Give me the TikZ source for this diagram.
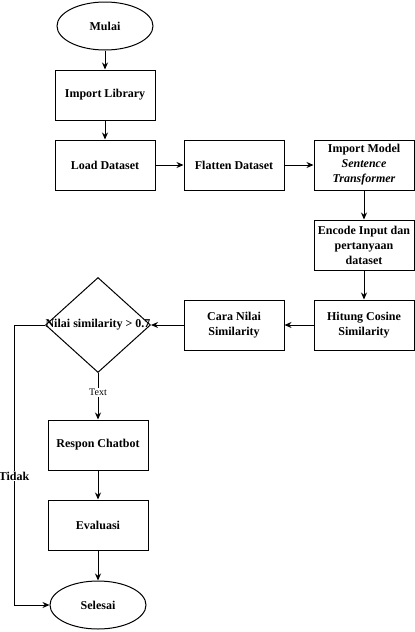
\documentclass[tikz,border=0pt]{standalone}
\usepackage{fontspec}
\setmainfont{Liberation Serif}
\usetikzlibrary{arrows.meta}
\usetikzlibrary{shapes.geometric}

\begin{document}
\begin{tikzpicture}[x=1pt,y=-1pt,line width=1pt,
    every node/.style={font=\fontsize{12}{15}\selectfont\bfseries,align=center},
    proses/.style={draw,rectangle,minimum width=100pt,minimum height=50pt,inner sep=2pt},
    terminal/.style={draw,ellipse,minimum width=96pt,minimum height=48pt,inner sep=0pt},
    keputusan/.style={draw,diamond,minimum width=105pt,minimum height=95pt,inner sep=0pt},
    panah/.style={-{Stealth[length=7pt,width=6pt]}}]

    % canvas
    \useasboundingbox (0,0) rectangle (415,632);

    % start and first column
    \node[terminal] (mulai) at (105,26) {Mulai};
    \node[proses] (library) at (105,95) {Import Library};
    \node[proses] (load) at (105,165) {Load Dataset};

    % top row
    \node[proses] (flatten) at (234,165) {Flatten Dataset};
    \node[proses] (model) at (364,165) {Import Model\\\textit{Sentence}\\\textit{Transformer}};

    % right column
    \node[proses] (encode) at (364,245) {Encode Input dan\\pertanyaan\\dataset};
    \node[proses] (cosine) at (364,325) {Hitung Cosine\\Similarity};
    \node[proses] (cara) at (234,325) {Cara Nilai\\Similarity};

    % decision
    \node[keputusan] (cek) at (98,325) {};
    \node (cektext) at (cek.center) {Nilai similarity > 0.7};

    % bottom column
    \node[proses] (respon) at (98,445) {Respon Chatbot};
    \node[proses] (evaluasi) at (98,525) {Evaluasi};
    \node[terminal] (selesai) at (98,605) {Selesai};

    % connectors
    \draw[panah] (mulai) -- (library);
    \draw[panah] (library) -- (load);
    \draw[panah] (load) -- (flatten);
    \draw[panah] (flatten) -- (model);
    \draw[panah] (model) -- (encode);
    \draw[panah] (encode) -- (cosine);
    \draw[panah] (cosine) -- (cara);
    \draw[panah] (cara) -- (cek.east);
    \draw[panah] (cek.south) -- node[fill=white,inner sep=1pt,pos=0.42,font=\fontsize{10}{12}\selectfont] {Text} (respon);
    \draw[panah] (respon) -- (evaluasi);
    \draw[panah] (evaluasi) -- (selesai);

    % loop back when not similar
    \coordinate (kiriatas) at (14,325);
    \coordinate (kiribawah) at (14,605);
    \draw[panah] (cek.west) -- (kiriatas) -- node[fill=white,inner sep=1pt,pos=0.54] {Tidak} (kiribawah) -- (selesai.west);

\end{tikzpicture}
\end{document}
